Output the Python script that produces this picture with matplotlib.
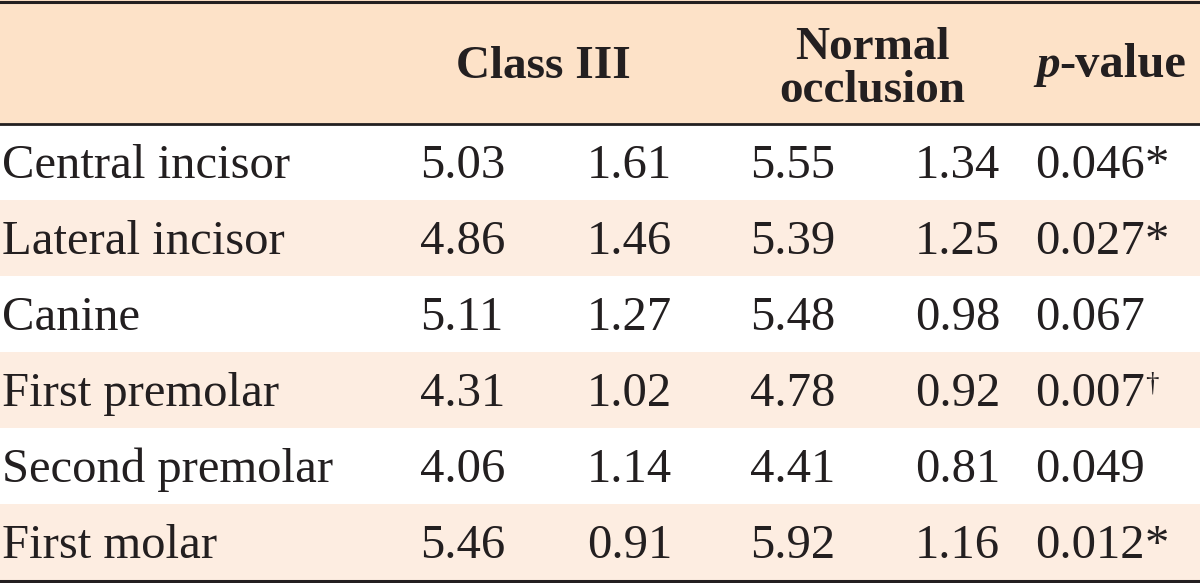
import matplotlib.pyplot as plt
from matplotlib.patches import Rectangle

plt.rcParams['font.family'] = ['Liberation Serif', 'DejaVu Serif']

# table content
teeth = ['Central incisor', 'Lateral incisor', 'Canine',
         'First premolar', 'Second premolar', 'First molar']
class3_mean = ['5.03', '4.86', '5.11', '4.31', '4.06', '5.46']
class3_sd = ['1.61', '1.46', '1.27', '1.02', '1.14', '0.91']
normal_mean = ['5.55', '5.39', '5.48', '4.78', '4.41', '5.92']
normal_sd = ['1.34', '1.25', '0.98', '0.92', '0.81', '1.16']
p_values = ['0.046', '0.027', '0.067', '0.007', '0.049', '0.012']
p_marks = ['*', '*', '', '\u2020', '', '*']

HEADER_BG = '#fde2c8'
STRIPE_BG = '#fdede1'
LINE = '#231f20'
TXT = '#231f20'

W, H = 1200, 583
header_h = 124
row_h = 76
fs = 35
hfs = 34

fig = plt.figure(figsize=(12, 5.83), dpi=100)
ax = fig.add_axes([0, 0, 1, 1])
ax.set_xlim(0, W)
ax.set_ylim(H, 0)
ax.axis('off')

# header band and striped rows
ax.add_patch(Rectangle((0, 0), W, header_h, color=HEADER_BG, lw=0))
for i in range(len(teeth)):
    if i % 2 == 1:
        ax.add_patch(Rectangle((0, header_h + i * row_h), W, row_h,
                               color=STRIPE_BG, lw=0))

ax.axhline(1.5, color=LINE, lw=2.2)
ax.axhline(header_h, color=LINE, lw=2.0)
ax.axhline(header_h + len(teeth) * row_h + 1, color=LINE, lw=2.2)

# header text
hdr = dict(fontsize=hfs, fontweight='bold', color=TXT, va='baseline')
ax.text(543, 78, 'Class III', ha='center', **hdr)
ax.text(872, 59, 'Normal', ha='center', **hdr)
ax.text(872, 102, 'occlusion', ha='center', **hdr)
pt = ax.text(1036, 77, 'p', ha='left', fontstyle='italic', **hdr)
ax.annotate('-value', xy=(1, 0), xycoords=pt, ha='left',
            fontsize=hfs + 1, fontweight='bold', color=TXT, va='bottom')

# body
cols = [(420, class3_mean), (587, class3_sd), (750, normal_mean), (915, normal_sd)]
body = dict(fontsize=fs, color=TXT, va='baseline', ha='left')
for i, name in enumerate(teeth):
    yb = header_h + (i + 0.5) * row_h + 16
    ax.text(2, yb, name, **body)
    for x, vals in cols:
        ax.text(x, yb, vals[i], **body)
    t = ax.text(1035, yb, p_values[i], **body)
    if p_marks[i] == '*':
        ax.annotate('*', xy=(1, 1.0), xycoords=t, ha='left', va='top',
                    fontsize=fs, color=TXT)
    elif p_marks[i]:
        ax.annotate(p_marks[i], xy=(1, 1.0), xycoords=t, ha='left', va='top',
                    fontsize=fs * 0.55, color=TXT)

fig.savefig('out.png', dpi=100)
